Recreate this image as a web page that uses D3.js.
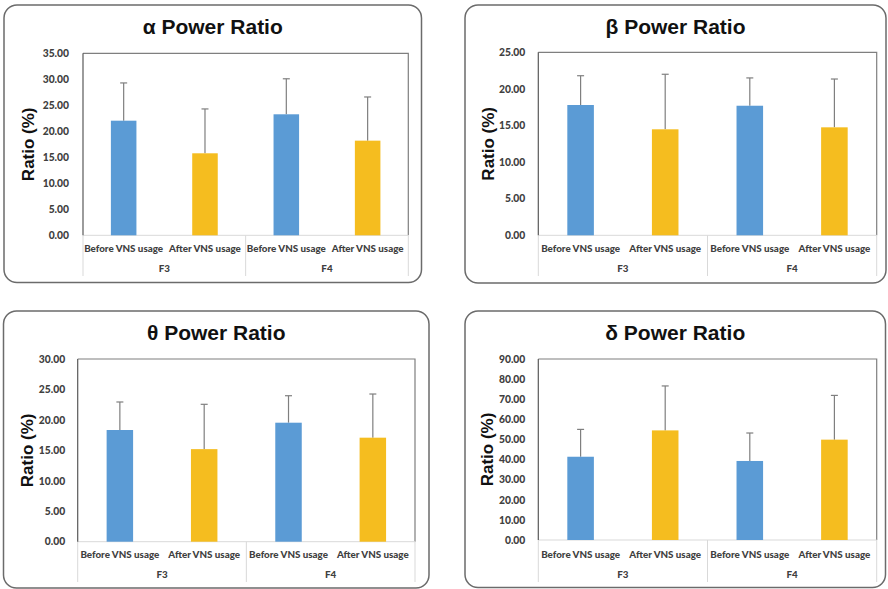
<!DOCTYPE html>
<html>
<head>
<meta charset="utf-8">
<style>
  body { margin: 0; background: #fff; }
  .panel-box { fill: #fff; stroke: #6b6b6b; stroke-width: 1.5; }
  .tick text { font-family: Lato, "Open Sans", sans-serif; font-weight: 900; fill: #404040; }
  .cat { font-family: Lato, "Open Sans", sans-serif; font-weight: 900; fill: #404040; }
</style>
</head>
<body>
<svg id="container" width="888" height="589"></svg>
<script src="https://cdn.jsdelivr.net/npm/d3@7"></script>
<script>
// ---- data ----
const titles = ["α Power Ratio", "β Power Ratio", "θ Power Ratio", "δ Power Ratio"]
const yMax = [35, 25, 30, 90]
const yStep = [5, 5, 5, 10]
const groups = ["F3", "F4"]
const conditions = ["Before VNS usage", "After VNS usage"]

// order: F3 before, F3 after, F4 before, F4 after
const alphaMean = [22.04, 15.77, 23.27, 18.20]
const alphaSD   = [7.26, 8.53, 6.83, 8.40]
const betaMean  = [17.80, 14.48, 17.70, 14.75]
const betaSD    = [4.00, 7.52, 3.80, 6.60]
const thetaMean = [18.34, 15.20, 19.54, 17.08]
const thetaSD   = [4.60, 7.36, 4.43, 7.17]
const deltaMean = [41.40, 54.50, 39.30, 49.90]
const deltaSD   = [13.60, 22.10, 13.90, 22.00]

const means = [alphaMean, betaMean, thetaMean, deltaMean]
const sds = [alphaSD, betaSD, thetaSD, deltaSD]
const colors = ["#5b9bd5", "#f5bd1f"]

// ---- layout of the four panels ----
const layout = [
  {box: [4, 5, 421.5, 282.5],  plot: [83, 53.3, 408.3, 235.3], sepBottom: 276, catY: 252, grpY: 272, titleY: 33.5, ylabX: 28.5, tickPad: 14},
  {box: [465, 5, 886, 283],    plot: [538.3, 52.3, 876.7, 235.3], sepBottom: 276, catY: 252, grpY: 272, titleY: 33.5, ylabX: 488, tickPad: 13},
  {box: [3.5, 311, 429, 588],  plot: [77.7, 359, 415, 541.7], sepBottom: 582, catY: 558, grpY: 578, titleY: 339.5, ylabX: 27.5, tickPad: 12.5},
  {box: [465, 311, 885.5, 587.5], plot: [538.3, 359, 876.7, 540], sepBottom: 582, catY: 558, grpY: 578, titleY: 339.5, ylabX: 487.5, tickPad: 13}
]

const svg = d3.select("#container")

layout.forEach((L, i) => drawPanel(L, i))

function drawPanel(L, i) {
  let g = svg.append("g")
  let [bx0, by0, bx1, by1] = L.box
  let [px0, py0, px1, py1] = L.plot

  g.append("rect")
    .attr("class", "panel-box")
    .attr("x", bx0).attr("y", by0)
    .attr("width", bx1 - bx0).attr("height", by1 - by0)
    .attr("rx", 13).attr("ry", 13)

  // title
  g.append("text")
    .attr("x", (bx0 + bx1) / 2)
    .attr("y", L.titleY)
    .attr("text-anchor", "middle")
    .style("font-family", "'Liberation Sans', Arial, sans-serif")
    .style("font-weight", "bold")
    .style("font-size", "21px")
    .attr("fill", "#111")
    .text(titles[i])

  // y axis label
  g.append("text")
    .attr("transform", `translate(${L.ylabX},${(py0 + py1) / 2}) rotate(-90)`)
    .attr("text-anchor", "middle")
    .attr("dy", "0.35em")
    .style("font-family", "'Liberation Sans', Arial, sans-serif")
    .style("font-weight", "bold")
    .style("font-size", "17px")
    .attr("fill", "#111")
    .text("Ratio (%)")

  let y = d3.scaleLinear().domain([0, yMax[i]]).range([py1, py0])

  let cats = []
  groups.forEach(gr => conditions.forEach(c => cats.push(gr + "|" + c)))

  let x = d3.scaleBand().domain(cats).range([px0, px1])
            .paddingInner(0.686).paddingOuter(0.343)
  let xg = d3.scaleBand().domain(groups).range([px0, px1])

  // y axis ticks
  let yAxis = d3.axisLeft(y)
    .tickValues(d3.range(0, yMax[i] + yStep[i] / 2, yStep[i]))
    .tickFormat(d3.format(".2f"))
    .tickSize(0)
    .tickPadding(L.tickPad)
  let ya = g.append("g").attr("transform", `translate(${px0},0)`).call(yAxis)
  ya.select(".domain").remove()
  ya.selectAll("text").style("font-size", "10.3px")

  // plot area frame (top + right) and baseline
  g.append("path")
    .attr("d", `M${px0},${py0}H${px1}V${py1}`)
    .attr("fill", "none").attr("stroke", "#7f7f7f").attr("stroke-width", 1.2)
  g.append("line")
    .attr("x1", px0).attr("x2", px1).attr("y1", py1).attr("y2", py1)
    .attr("stroke", "#d9d9d9")

  // category separators
  let seps = [px0].concat(groups.map(gr => xg(gr) + xg.bandwidth()))
  g.selectAll(".sep").data(seps).enter().append("line")
    .attr("x1", d => d).attr("x2", d => d)
    .attr("y1", py1).attr("y2", L.sepBottom)
    .attr("stroke", "#d9d9d9")

  // left axis line
  g.append("line")
    .attr("x1", px0).attr("x2", px0).attr("y1", py0).attr("y2", py1)
    .attr("stroke", "#595959").attr("stroke-width", 1.2)

  let rows = cats.map((c, k) => ({key: c, cond: k % 2, mean: means[i][k], sd: sds[i][k]}))

  // error bars (upper only)
  let eb = g.append("g")
  eb.selectAll("line.err").data(rows).enter().append("line")
    .attr("x1", d => x(d.key) + x.bandwidth() / 2)
    .attr("x2", d => x(d.key) + x.bandwidth() / 2)
    .attr("y1", d => y(d.mean))
    .attr("y2", d => y(d.mean + d.sd))
    .attr("stroke", "#7f7f7f").attr("stroke-width", 1.2)
  eb.selectAll("line.cap").data(rows).enter().append("line")
    .attr("x1", d => x(d.key) + x.bandwidth() / 2 - 3.5)
    .attr("x2", d => x(d.key) + x.bandwidth() / 2 + 3.5)
    .attr("y1", d => y(d.mean + d.sd))
    .attr("y2", d => y(d.mean + d.sd))
    .attr("stroke", "#7f7f7f").attr("stroke-width", 1.2)

  // bars
  g.selectAll("rect.bar").data(rows).enter().append("rect")
    .attr("class", "bar")
    .attr("x", d => x(d.key))
    .attr("width", x.bandwidth())
    .attr("y", d => y(d.mean))
    .attr("height", d => py1 - y(d.mean))
    .attr("fill", d => colors[d.cond])

  // category labels
  g.selectAll("text.sub").data(rows).enter().append("text")
    .attr("class", "cat")
    .attr("x", d => x(d.key) + x.bandwidth() / 2)
    .attr("y", L.catY)
    .attr("text-anchor", "middle")
    .style("font-size", "9.8px")
    .text(d => conditions[d.cond])

  g.selectAll("text.grp").data(groups).enter().append("text")
    .attr("class", "cat")
    .attr("x", d => xg(d) + xg.bandwidth() / 2)
    .attr("y", L.grpY)
    .attr("text-anchor", "middle")
    .style("font-size", "9.8px")
    .text(d => d)
}
</script>
</body>
</html>
